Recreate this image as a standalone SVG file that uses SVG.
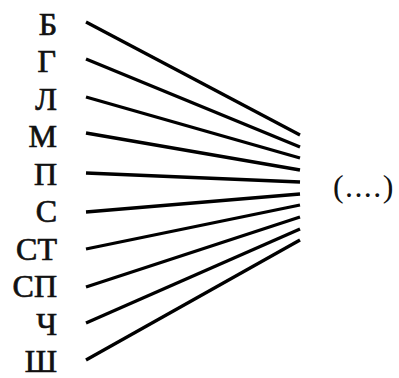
<svg xmlns="http://www.w3.org/2000/svg" width="399" height="378" viewBox="0 0 399 378">
<style>
.lbl{font-family:"Liberation Serif","Times New Roman",serif;font-size:32px;fill:#111;stroke:#111;stroke-width:0.7;text-anchor:end}
.c line{stroke:#000;stroke-width:3.3;stroke-linecap:butt}
</style>
<rect width="399" height="378" fill="#fff"/>
<g id="n-B"><text class="lbl" x="57" y="35">Б</text></g>
<g id="n-G"><text class="lbl" x="56" y="72">Г</text></g>
<g id="n-L"><text class="lbl" x="57" y="110">Л</text></g>
<g id="n-M"><text class="lbl" x="57" y="147">М</text></g>
<g id="n-P"><text class="lbl" x="57" y="185">П</text></g>
<g id="n-S"><text class="lbl" x="57" y="222">С</text></g>
<g id="n-ST"><text class="lbl" x="57" y="260">СТ</text></g>
<g id="n-SP"><text class="lbl" x="57" y="297">СП</text></g>
<g id="n-CH"><text class="lbl" x="57" y="335">Ч</text></g>
<g id="n-SH"><text class="lbl" x="57" y="372">Ш</text></g>
<g id="n-target"><text x="333" y="197" style="font-family:'Liberation Serif','Times New Roman',serif;font-size:32px;fill:#111;letter-spacing:1.4px">(....)</text></g>
<g id="connectors" class="c">
<line x1="86" y1="22" x2="300" y2="135"/>
<line x1="86" y1="59" x2="300" y2="147"/>
<line x1="86" y1="97" x2="300" y2="158"/>
<line x1="86" y1="133" x2="300" y2="170"/>
<line x1="86" y1="173" x2="300" y2="182"/>
<line x1="86" y1="212" x2="300" y2="194"/>
<line x1="86" y1="249" x2="300" y2="205"/>
<line x1="86" y1="287" x2="300" y2="217"/>
<line x1="86" y1="323" x2="300" y2="229"/>
<line x1="86" y1="360" x2="300" y2="240"/>
</g>
</svg>
